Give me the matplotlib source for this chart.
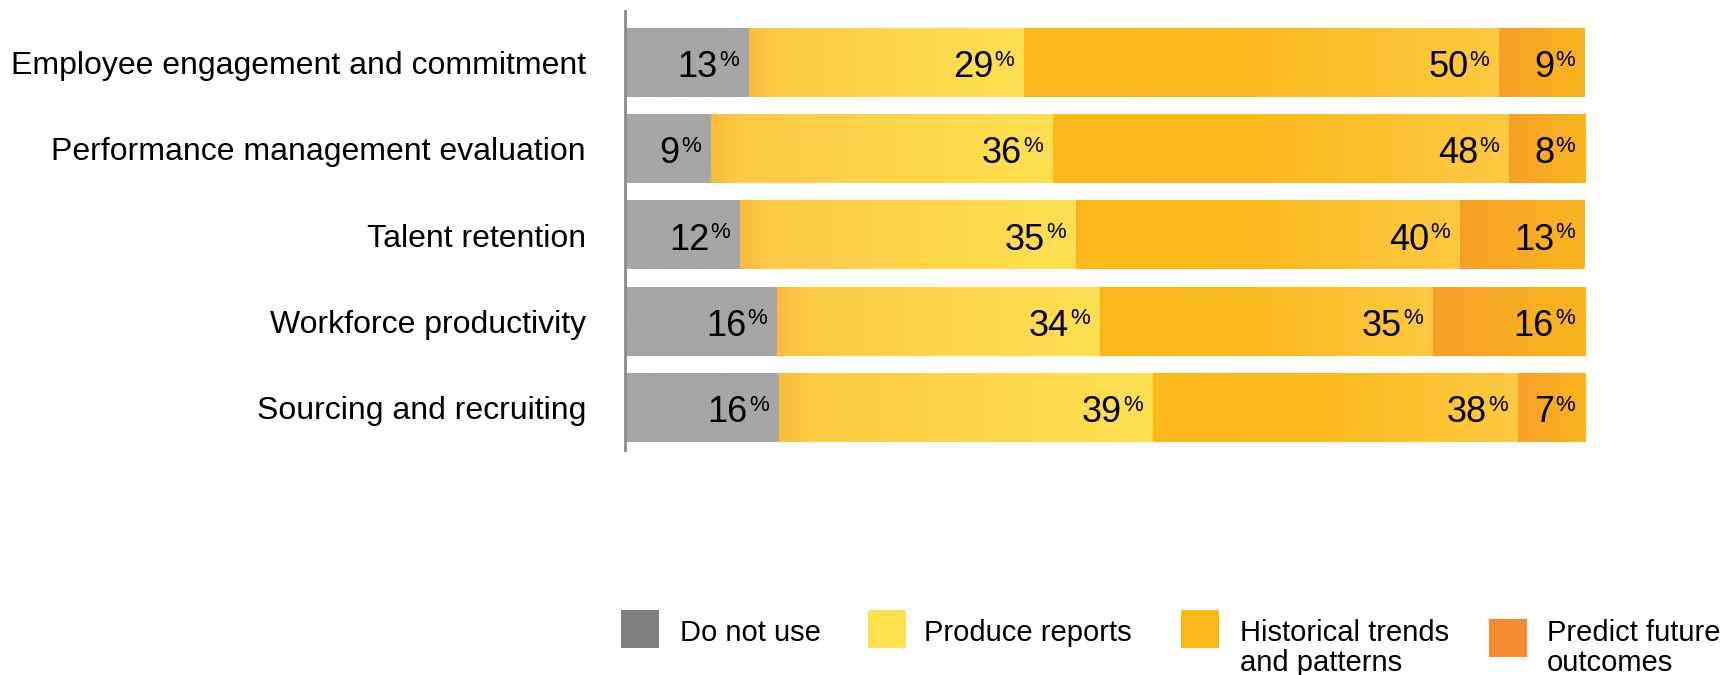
import matplotlib
matplotlib.use("Agg")
import matplotlib.pyplot as plt
import numpy as np
from matplotlib.colors import LinearSegmentedColormap
from matplotlib.patches import Rectangle

plt.rcParams['font.family'] = ['Liberation Sans', 'DejaVu Sans']

categories = ["Employee engagement and commitment",
              "Performance management evaluation",
              "Talent retention",
              "Workforce productivity",
              "Sourcing and recruiting"]
series_names = ["Do not use", "Produce reports", "Historical trends\nand patterns",
                "Predict future\noutcomes"]
do_not_use = [13, 9, 12, 16, 16]
produce_reports = [29, 36, 35, 34, 39]
historical = [50, 48, 40, 35, 38]
predict = [9, 8, 13, 16, 7]

series = [do_not_use, produce_reports, historical, predict]
legend_colors = ["#7F7F7F", "#FFE04F", "#FBB81C", "#F58A31"]
grad_stops = [
    ["#A6A6A6", "#A6A6A6"],
    [(0, "#F9BC3C"), (0.08, "#FCCA45"), (0.5, "#FDD54B"), (1.0, "#FFE052")],
    [(0, "#FBB81B"), (0.45, "#FBBA1F"), (1.0, "#FEC940")],
    [(0, "#F7A028"), (1.0, "#FBB51F")],
]
cmaps = [LinearSegmentedColormap.from_list(f"g{i}", s) for i, s in enumerate(grad_stops)]

W, H = 1723, 675
fig = plt.figure(figsize=(W / 100, H / 100), dpi=100)
ax = fig.add_axes([625 / W, 1 - 450 / H, (1585 - 625) / W, (450 - 11) / H])

bar_h = 0.79
grad = np.linspace(0, 1, 256).reshape(1, -1)
totals = np.sum(np.array(series), axis=0)
for i, cat in enumerate(categories):
    left = 0.0
    for j, vals in enumerate(series):
        w = vals[i] / totals[i]
        ax.barh(i, w, left=left, height=bar_h, color=legend_colors[j], linewidth=0)
        ax.imshow(grad, cmap=cmaps[j], aspect='auto', interpolation='bilinear',
                  extent=(left, left + w, i + bar_h / 2, i - bar_h / 2), zorder=2)
        end = left + w
        ax.annotate(f"{vals[i]}", xy=(end, i), xytext=(-31, -14.5),
                    textcoords='offset pixels', ha='right', va='baseline',
                    fontsize=26, color='black', zorder=3)
        ax.annotate("%", xy=(end, i), xytext=(-10, -3),
                    textcoords='offset pixels', ha='right', va='baseline',
                    fontsize=16, color='black', zorder=3)
        left = end

ax.set_xlim(0, 1)
ax.set_ylim(4.49, -0.6)
ax.set_yticks(range(len(categories)))
ax.set_yticklabels(categories, fontsize=23)
ax.tick_params(axis='y', length=0, pad=28)
ax.set_xticks([])
for s in ['top', 'right', 'bottom']:
    ax.spines[s].set_visible(False)
ax.spines['left'].set_color('#8C8C8C')
ax.spines['left'].set_linewidth(2)

# legend
patch_x = [621, 868, 1181, 1489]
text_x = [680, 924, 1240, 1547]
patch_y = [610, 610, 610, 619]
for k in range(4):
    fig.patches.append(Rectangle((patch_x[k] / W, 1 - (patch_y[k] + 38) / H), 38 / W, 38 / H,
                                 transform=fig.transFigure, color=legend_colors[k], linewidth=0))
    fig.text(text_x[k] / W, 1 - 619 / H, series_names[k], fontsize=21, ha='left',
             va='top', linespacing=1.1, transform=fig.transFigure)

fig.savefig("out.png", dpi=100)
